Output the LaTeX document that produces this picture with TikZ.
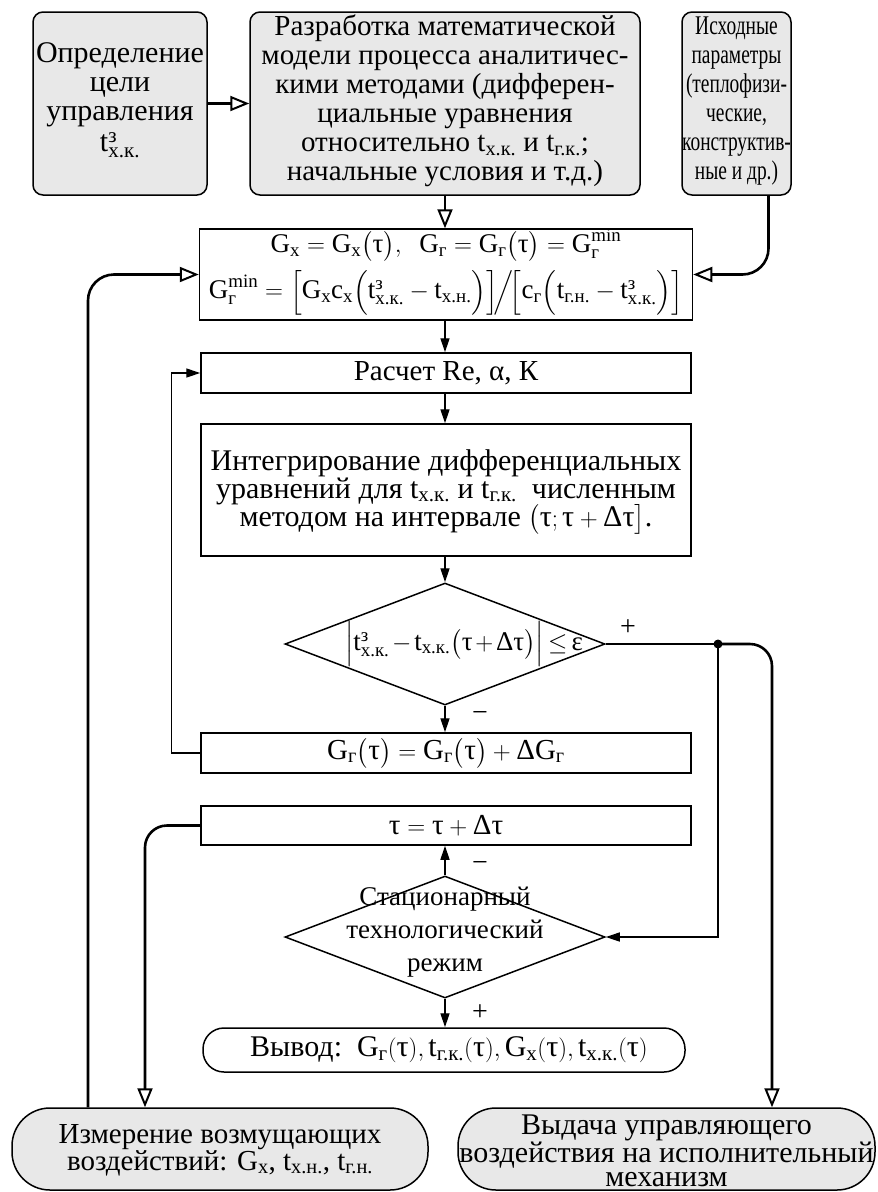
\documentclass[tikz,border=0pt]{standalone}
\usepackage{fontspec}
\usepackage{amsmath}
\setmainfont{Liberation Serif}
\newfontfamily\condensed[FakeStretch=0.72]{Liberation Serif}
\usetikzlibrary{arrows.meta,shapes.geometric,calc}
\definecolor{boxgray}{RGB}{232,232,232}
\newcommand{\rmt}[1]{\text{#1}}
\begin{document}
\begin{tikzpicture}[x=1pt,y=-1pt,
  box/.style={draw, line width=1.5pt, inner sep=0pt, fill=white},
  greybox/.style={box, fill=boxgray, rounded corners=10pt},
  stadium/.style={box, fill=boxgray, rounded corners=38pt},
  decis/.style={draw, diamond, line width=1.5pt, inner sep=0pt, minimum width=320pt, minimum height=122pt},
  txt/.style={inner sep=0pt, align=center, font=\fontsize{29}{29}\selectfont},
  sign/.style={inner sep=0pt, font=\fontsize{28}{28}\selectfont},
  openarr/.style={line width=2.6pt, -{Triangle[open, length=19pt, width=15pt, line width=2pt]}},
  fillarr/.style={line width=1.4pt, -{Triangle[length=14pt, width=9pt]}},
  thinline/.style={line width=1.4pt}]
\useasboundingbox (0,0) rectangle (878,1192);

% top row
\node[greybox, minimum width=174pt, minimum height=183pt] (b1) at (120,103.5) {};
\node[txt, font=\fontsize{30}{29}\selectfont] (b1t) at (120,100) {Определение\\цели\\управления\\[2pt]$\rmt{t}^{\rmt{з}}_{\rmt{х.к.}}$};
\node[greybox, minimum width=390pt, minimum height=183pt] (b2) at (445,103.5) {};
\node[txt] (b2t) at (445,101) {Разработка математической\\модели процесса аналитичес-\\кими методами (дифферен-\\циальные уравнения\\относительно t\textsubscript{х.к.} и t\textsubscript{г.к.};\\начальные условия и т.д.)};
\node[greybox, minimum width=109pt, minimum height=183pt] (b3) at (736.5,103.5) {};
\node[txt, font=\condensed\fontsize{27}{29}\selectfont] (b3t) at (736.5,101) {Исходные\\параметры\\(теплофизи-\\ческие,\\конструктив-\\ные и др.)};

% formula box
\node[box, minimum width=493pt, minimum height=91pt] (f) at (446,274.5) {};
\node[txt, font=\fontsize{27}{46}\selectfont] (ft) at (446,272) {%
$\rmt{G}_{\rmt{х}} = \rmt{G}_{\rmt{х}}\bigl(\rmt{τ}\bigr),\ \ \rmt{G}_{\rmt{г}} = \rmt{G}_{\rmt{г}}\bigl(\rmt{τ}\bigr) = \rmt{G}_{\rmt{г}}^{\rmt{min}}$\\
$\rmt{G}_{\rmt{г}}^{\rmt{min}} = \Bigl[\rmt{G}_{\rmt{х}}\rmt{c}_{\rmt{х}}\Bigl(\rmt{t}^{\rmt{з}}_{\rmt{х.к.}} - \rmt{t}_{\rmt{х.н.}}\Bigr)\Bigr]\!\Big/\!\Bigl[\rmt{c}_{\rmt{г}}\Bigl(\rmt{t}_{\rmt{г.н.}} - \rmt{t}^{\rmt{з}}_{\rmt{х.к.}}\Bigr)\Bigr]$};

% process boxes
\node[box, minimum width=490pt, minimum height=40pt] (r) at (446,373) {};
\node[txt] (rt) at (446,373) {Расчет Re, α, К};
\node[box, minimum width=490pt, minimum height=132pt] (integ) at (446,490) {};
\node[txt, font=\fontsize{30}{28}\selectfont] (integt) at (446,492) {Интегрирование дифференциальных\\уравнений для t\textsubscript{х.к.} и t\textsubscript{г.к.}\ \ численным\\методом на интервале $\bigl(\rmt{τ};\rmt{τ}+\rmt{Δτ}\bigr]$.};

\node[decis] (d1) at (445,644) {};
\node[txt, font=\fontsize{27}{29}\selectfont] (d1t) at (464,644) {\medmuskip=2mu\thickmuskip=3mu$\Bigl|\rmt{t}^{\rmt{з}}_{\rmt{х.к.}} - \rmt{t}_{\rmt{х.к.}}\bigl(\rmt{τ}+\rmt{Δτ}\bigr)\Bigr|\le \rmt{ε}$};

\node[box, minimum width=490pt, minimum height=40pt] (gg) at (446,753) {};
\node[txt] (ggt) at (446,753) {$\rmt{G}_{\rmt{г}}\bigl(\rmt{τ}\bigr) = \rmt{G}_{\rmt{г}}\bigl(\rmt{τ}\bigr) + \rmt{ΔG}_{\rmt{г}}$};

\node[box, minimum width=490pt, minimum height=39pt] (tau) at (446,825.5) {};
\node[txt] (taut) at (446,825.5) {$\rmt{τ} = \rmt{τ} + \rmt{Δτ}$};

\node[decis] (d2) at (445,937) {};
\node[txt, font=\fontsize{27}{33}\selectfont] (d2t) at (445,932) {Стационарный\\технологический\\режим};

\node[box, rounded corners=21pt, minimum width=482pt, minimum height=44pt] (out) at (444,1050) {};
\node[txt, font=\fontsize{30}{30}\selectfont] (outt) at (449,1050) {Вывод:\ \ $\rmt{G}_{\rmt{г}}(\rmt{τ}), \rmt{t}_{\rmt{г.к.}}(\rmt{τ}), \rmt{G}_{\rmt{х}}(\rmt{τ}), \rmt{t}_{\rmt{х.к.}}(\rmt{τ})$};

\node[stadium, minimum width=416pt, minimum height=82pt] (izm) at (220,1149) {};
\node[txt, font=\fontsize{29}{27}\selectfont] (izmt) at (220,1150) {Измерение возмущающих\\воздействий: G\textsubscript{х}, t\textsubscript{х.н.}, t\textsubscript{г.н.}};
\node[stadium, minimum width=417pt, minimum height=82pt] (vyd) at (666.5,1149) {};
\node[txt, font=\fontsize{30}{24}\selectfont] (vydt) at (666.5,1151) {Выдача управляющего\\воздействия на исполнительный\\механизм};

% signs
\node[sign] (p1) at (628,628) {+};
\node[sign] (m1) at (480,716) {−};
\node[sign] (m2) at (480,866) {−};
\node[sign] (p2) at (480,1013) {+};

\coordinate (dot) at (718,644);

% connectors
\draw[openarr] (b1.east) -- (b2.west);
\draw[openarr] (b2.south) -- (b2.south |- f.north);
\draw[openarr, rounded corners=26pt] ($(b3.south)+(32,0)$) |- (f.east);
\draw[openarr, rounded corners=26pt] ($(izm.north)+(-132,0)$) |- (f.west);
\draw[fillarr] (f.south -| d1.north) -- (d1.north |- r.north);
\draw[fillarr] (r.south -| d1.north) -- (d1.north |- integ.north);
\draw[fillarr] (integ.south -| d1.north) -- (d1.north);
\draw[fillarr] (d1.south) -- (d1.south |- gg.north);
\draw[fillarr] (gg.west) -- ++(-29,0) |- (r.west);
\draw[thinline] (d1.east) -- (dot);
\fill (dot) circle (4.5pt);
\draw[openarr, rounded corners=22pt] (dot) -| ($(vyd.north)+(105.5,0)$);
\draw[fillarr] (dot) |- (d2.east);
\draw[fillarr] (d2.north) -- (d2.north |- tau.south);
\draw[fillarr] (d2.south) -- (d2.south |- out.north);
\draw[openarr, rounded corners=22pt] (tau.west) -| ($(izm.north)+(-75,0)$);
\end{tikzpicture}
\end{document}
